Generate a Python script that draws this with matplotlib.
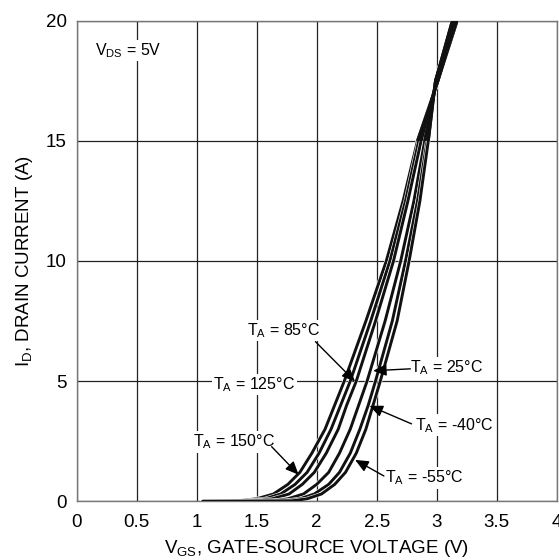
import matplotlib
matplotlib.use("Agg")
import matplotlib.pyplot as plt
import matplotlib.patheffects as pe

plt.rcParams['font.family'] = ['Liberation Sans', 'DejaVu Sans']
plt.rcParams['mathtext.default'] = 'regular'

# drain current levels (A) and the gate voltage (V) at which each curve reaches them
current_levels = [0, 0.02, 0.1, 0.3, 0.7, 1.2, 2, 3, 4, 5, 7.5, 10, 12.5, 15, 17.5, 20]
vgs_150 = [1.05, 1.35, 1.50, 1.64, 1.76, 1.86, 1.96, 2.07, 2.15, 2.23, 2.41, 2.58, 2.72, 2.84, 3.01, 3.17]
vgs_125 = [1.05, 1.42, 1.57, 1.70, 1.82, 1.92, 2.02, 2.12, 2.20, 2.28, 2.45, 2.61, 2.74, 2.85, 3.01, 3.16]
vgs_85 = [1.05, 1.49, 1.63, 1.77, 1.88, 1.98, 2.08, 2.18, 2.25, 2.33, 2.49, 2.64, 2.76, 2.87, 3.00, 3.16]
vgs_25 = [1.05, 1.63, 1.76, 1.89, 2.00, 2.10, 2.19, 2.28, 2.35, 2.42, 2.57, 2.70, 2.81, 2.90, 3.00, 3.15]
vgs_m40 = [1.05, 1.74, 1.86, 1.98, 2.10, 2.19, 2.28, 2.36, 2.43, 2.49, 2.63, 2.74, 2.84, 2.92, 2.99, 3.14]
vgs_m55 = [1.05, 1.80, 1.92, 2.04, 2.15, 2.24, 2.33, 2.41, 2.47, 2.53, 2.67, 2.77, 2.86, 2.93, 2.99, 3.13]

curves = [vgs_150, vgs_125, vgs_85, vgs_25, vgs_m40, vgs_m55]

x_ticks = [0, 0.5, 1, 1.5, 2, 2.5, 3, 3.5, 4]
x_tick_labels = ['0', '0.5', '1', '1.5', '2', '2.5', '3', '3.5', '4']
y_ticks = [0, 5, 10, 15, 20]

fig = plt.figure(figsize=(5.59, 5.60), dpi=100)
ax = fig.add_axes([0.137, 0.105, 0.859, 0.858])

for v in curves:
    ax.plot(v, current_levels, color='#111111', linewidth=2.1, solid_capstyle='round',
            path_effects=[pe.Stroke(linewidth=2.9, foreground='white'), pe.Normal()],
            zorder=3)
# where the curves bunch together near the top they merge into one dark band
for v in curves:
    ax.plot(v[-3:], current_levels[-3:], color='#111111', linewidth=2.1,
            solid_capstyle='butt', zorder=3.5)

ax.set_xlim(0, 4)
ax.set_ylim(0, 20)
ax.set_xticks(x_ticks)
ax.set_xticklabels(x_tick_labels)
ax.set_yticks(y_ticks)
ax.tick_params(length=0, labelsize=13.5)
ax.tick_params(axis='x', pad=9)
ax.tick_params(axis='y', pad=7)
ax.grid(True, color='#222222', linewidth=0.9)
ax.set_axisbelow(True)
for s in ax.spines.values():
    s.set_color('#777777')
    s.set_linewidth(1.0)

ax.set_xlabel('V$_{GS}$, GATE-SOURCE VOLTAGE (V)', fontsize=13.5, labelpad=5)
ax.set_ylabel('I$_D$, DRAIN CURRENT (A)', fontsize=13.5, labelpad=8)

box = dict(facecolor='white', edgecolor='none', pad=1.0)
ax.text(0.153, 18.57, 'V$_{DS}$ = 5V', fontsize=11.5, ha='left', va='baseline', bbox=box, zorder=4)

labels = [
    ('T$_A$ = 85°C', 1.42, 6.92),
    ('T$_A$ = 125°C', 1.14, 4.66),
    ('T$_A$ = 150°C', 0.97, 2.27),
    ('T$_A$ = 25°C', 2.78, 5.35),
    ('T$_A$ = -40°C', 2.82, 2.97),
    ('T$_A$ = -55°C', 2.57, 0.78),
]
for txt, x, y in labels:
    ax.text(x, y, txt, fontsize=11.5, ha='left', va='baseline', bbox=box, zorder=4)

# leader arrows: (tail, head)
arrows = [
    ((1.99, 6.64), (2.32, 4.98)),
    ((2.78, 5.51), (2.47, 5.43)),
    ((2.79, 3.22), (2.44, 3.97)),
    ((2.56, 1.05), (2.32, 1.72)),
    ((1.625, 2.27), (1.85, 1.10)),
]
for tail, head in arrows:
    ax.annotate('', xy=head, xytext=tail,
                arrowprops=dict(arrowstyle='-|>,head_length=0.8,head_width=0.35',
                                color='black', lw=1.0, shrinkA=0, shrinkB=0),
                zorder=5)

fig.savefig('out.png', dpi=100)
